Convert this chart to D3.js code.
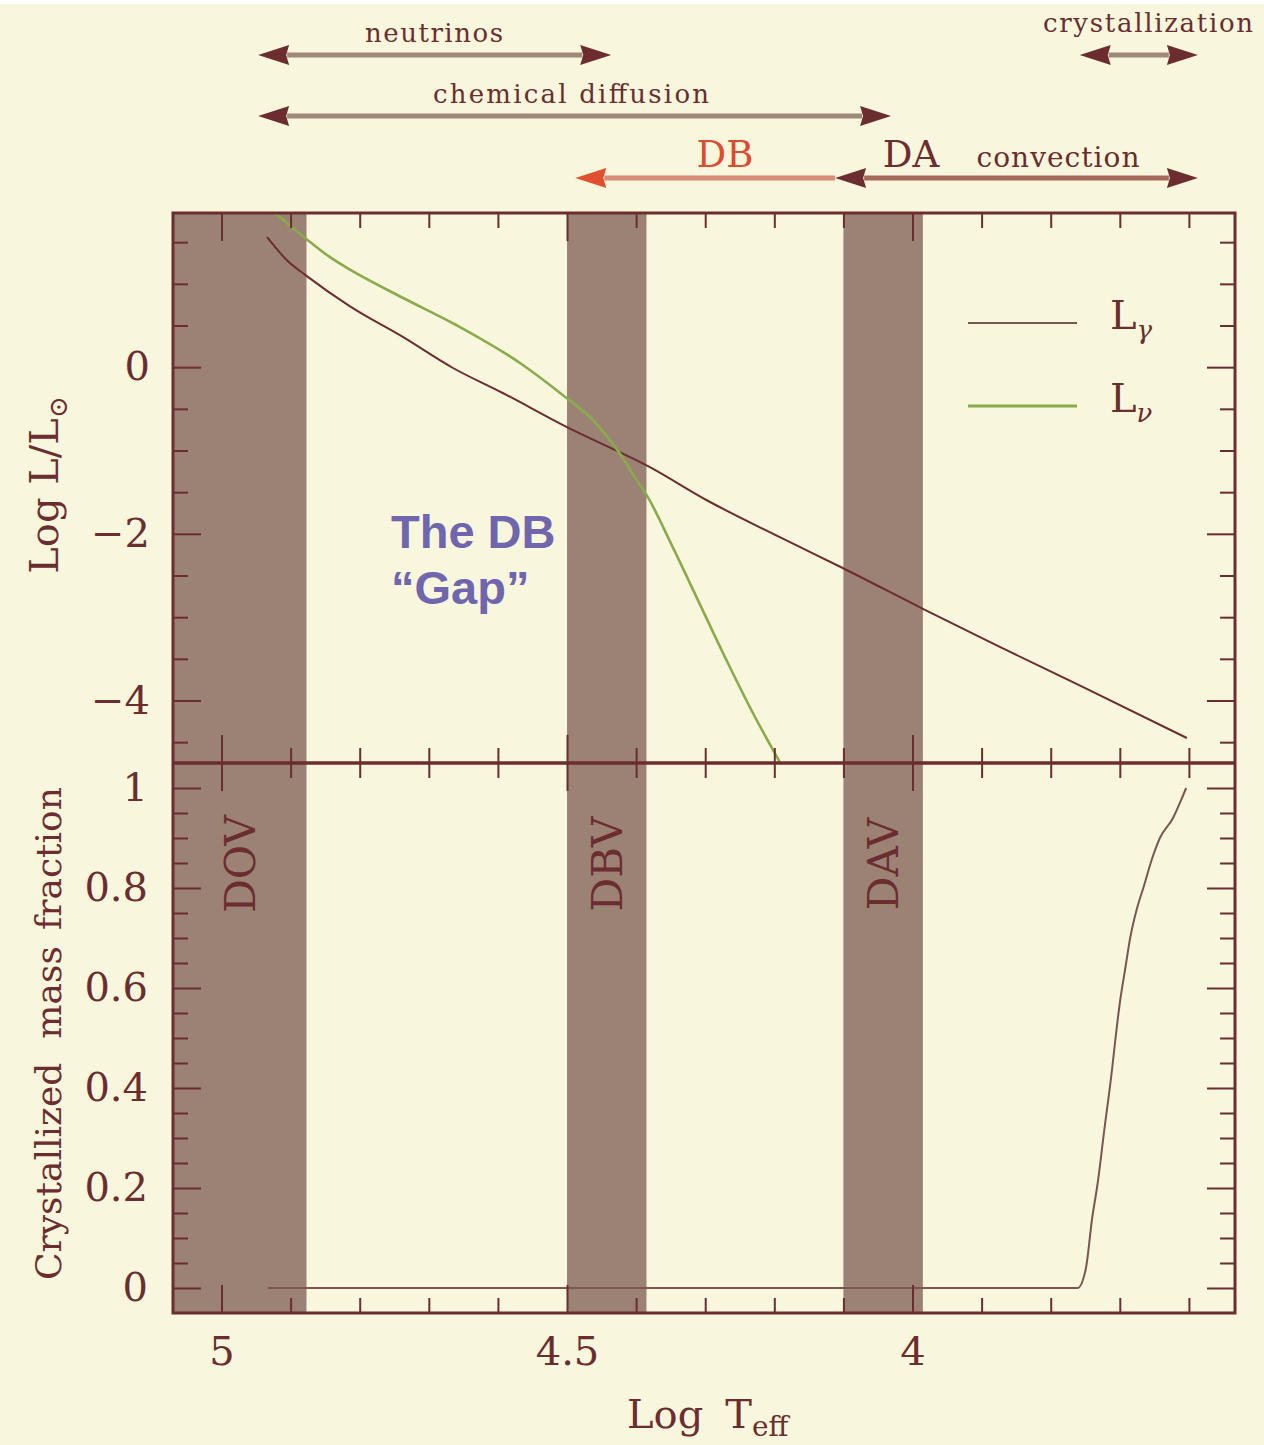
<!DOCTYPE html>
<html><head><meta charset="utf-8">
<script src="https://cdn.jsdelivr.net/npm/d3@7"></script>
<style>
html,body{margin:0;padding:0;background:#fff;}
svg{display:block;}
</style></head>
<body>
<svg id="chart" width="1264" height="1445"></svg>
<script>
// ---------------- data ----------------
const gammaTeff = [4.934, 4.905, 4.876, 4.814, 4.737, 4.665, 4.593, 4.500, 4.380, 4.297, 4.192, 4.101, 3.985, 3.873, 3.753, 3.603];
const gammaLogL = [1.56, 1.28, 1.09, 0.73, 0.36, -0.01, -0.31, -0.72, -1.20, -1.60, -2.04, -2.41, -2.90, -3.36, -3.84, -4.45];
const nuTeff = [4.930, 4.876, 4.843, 4.814, 4.737, 4.659, 4.568, 4.510, 4.462, 4.424, 4.402, 4.383, 4.347, 4.308, 4.269, 4.231, 4.192];
const nuLogL = [1.90, 1.53, 1.32, 1.17, 0.83, 0.50, 0.05, -0.31, -0.64, -1.03, -1.32, -1.56, -2.16, -2.84, -3.52, -4.15, -4.74];
const crysTeff = [4.933, 3.761, 3.749, 3.740, 3.732, 3.723, 3.711, 3.707, 3.700, 3.692, 3.685, 3.675, 3.666, 3.653, 3.642, 3.623, 3.610, 3.604];
const crysFrac = [0, 0, 0.04, 0.14, 0.21, 0.31, 0.44, 0.49, 0.57, 0.64, 0.70, 0.76, 0.80, 0.86, 0.90, 0.94, 0.98, 1.00];
const stripNames = ["DOV", "DBV", "DAV"];
const stripHot = [5.0702, 4.500, 4.100];
const stripCool = [4.877, 4.385, 3.985];
const processHot = [4.947, 4.947, 4.488, 4.112, 3.758];
const processCool = [4.436, 4.031, 4.112, 3.587, 3.587];
const processTexts = ["neutrinos", "chemical diffusion", "DB", "DA", "convection", "crystallization"];
const xMajorTicks = [5, 4.5, 4];
const xMinorTicks = [4.9, 4.8, 4.7, 4.6, 4.4, 4.3, 4.2, 4.1, 3.9, 3.8, 3.7, 3.6];
const yTopMajorTicks = [0, -2, -4];
const yTopMinorTicks = [1.5, 1, 0.5, -0.5, -1, -1.5, -2.5, -3, -3.5, -4.5];
const yBotMajorTicks = [0, 0.2, 0.4, 0.6, 0.8, 1];
const yBotMinorTicks = [0.05, 0.1, 0.15, 0.25, 0.3, 0.35, 0.45, 0.5, 0.55, 0.65, 0.7, 0.75, 0.85, 0.9, 0.95];
const legendSubs = ["γ", "ν"];

// ---------------- layout & style ----------------
const L = 173, R = 1235, T = 213, M = 763, B = 1313;
const bg = "#f8f7dd", maroon = "#6b2d2f", band = "#9b8274", green = "#8aab4b";
const serif = "'DejaVu Serif', serif";
const svg = d3.select("#chart");

const x = d3.scaleLinear().domain([5.0702, 3.5333]).range([L, R]);
const yTop = d3.scaleLinear().domain([-4.75, 1.85]).range([M, T]);
const yBot = d3.scaleLinear().domain([-0.05, 1.05]).range([B, M]);

svg.append("rect").attr("width", 1264).attr("height", 1445).attr("fill", bg);
svg.append("rect").attr("width", 1264).attr("height", 4).attr("fill", "#fff");

// instability strips
svg.append("g").selectAll("rect").data(stripNames).join("rect")
  .attr("x", (d, i) => x(stripHot[i]))
  .attr("width", (d, i) => x(stripCool[i]) - x(stripHot[i]))
  .attr("y", T).attr("height", B - T)
  .attr("fill", band);

// clip paths
const defs = svg.append("defs");
defs.append("clipPath").attr("id", "clipTop").append("rect").attr("x", L).attr("y", T).attr("width", R - L).attr("height", M - T);
defs.append("clipPath").attr("id", "clipBot").append("rect").attr("x", L).attr("y", M).attr("width", R - L).attr("height", B - M);

const lineTop = d3.line().x(d => x(d[0])).y(d => yTop(d[1])).curve(d3.curveMonotoneX);
const lineBot = d3.line().x(d => x(d[0])).y(d => yBot(d[1])).curve(d3.curveMonotoneX);

svg.append("path").attr("clip-path", "url(#clipTop)")
  .attr("d", lineTop(gammaTeff.map((t, i) => [t, gammaLogL[i]])))
  .attr("fill", "none").attr("stroke", maroon).attr("stroke-width", 2);
svg.append("path").attr("clip-path", "url(#clipTop)")
  .attr("d", lineTop(nuTeff.map((t, i) => [t, nuLogL[i]])))
  .attr("fill", "none").attr("stroke", green).attr("stroke-width", 2.6);
svg.append("path").attr("clip-path", "url(#clipBot)")
  .attr("d", lineBot(crysTeff.map((t, i) => [t, crysFrac[i]])))
  .attr("fill", "none").attr("stroke", "#7a5650").attr("stroke-width", 2);

// axes
function axis(gen, tr, ticks, size, labeled, pad) {
  const g = svg.append("g").attr("transform", tr)
    .call(gen.tickValues(ticks).tickSize(size).tickPadding(pad || 3)
      .tickFormat(labeled ? d3.format("~g") : () => ""));
  g.select(".domain").remove();
  g.attr("font-family", serif).attr("font-size", 40);
  g.selectAll("line").attr("stroke", maroon).attr("stroke-width", 2);
  g.selectAll("text").attr("fill", maroon);
  return g;
}
// x ticks: top frame, divider (both sides), bottom frame
axis(d3.axisTop(x), `translate(0,${T})`, xMajorTicks, -28, false);
axis(d3.axisTop(x), `translate(0,${T})`, xMinorTicks, -15, false);
axis(d3.axisBottom(x), `translate(0,${M})`, xMajorTicks, -28, false);
axis(d3.axisBottom(x), `translate(0,${M})`, xMinorTicks, -15, false);
axis(d3.axisTop(x), `translate(0,${M})`, xMajorTicks, -28, false);
axis(d3.axisTop(x), `translate(0,${M})`, xMinorTicks, -15, false);
axis(d3.axisBottom(x), `translate(0,${B})`, xMajorTicks, -28, true, 24);
axis(d3.axisBottom(x), `translate(0,${B})`, xMinorTicks, -15, false);
// y ticks top panel
axis(d3.axisLeft(yTop), `translate(${L},0)`, yTopMajorTicks, -28, true, 23);
axis(d3.axisLeft(yTop), `translate(${L},0)`, yTopMinorTicks, -15, false);
axis(d3.axisRight(yTop), `translate(${R},0)`, yTopMajorTicks, -28, false);
axis(d3.axisRight(yTop), `translate(${R},0)`, yTopMinorTicks, -15, false);
// y ticks bottom panel
axis(d3.axisLeft(yBot), `translate(${L},0)`, yBotMajorTicks, -28, true, 25);
axis(d3.axisLeft(yBot), `translate(${L},0)`, yBotMinorTicks, -15, false);
axis(d3.axisRight(yBot), `translate(${R},0)`, yBotMajorTicks, -28, false);
axis(d3.axisRight(yBot), `translate(${R},0)`, yBotMinorTicks, -15, false);

// frame + divider
svg.append("rect").attr("x", L).attr("y", T).attr("width", R - L).attr("height", B - T)
  .attr("fill", "none").attr("stroke", maroon).attr("stroke-width", 3);
svg.append("line").attr("x1", L).attr("x2", R).attr("y1", M).attr("y2", M)
  .attr("stroke", maroon).attr("stroke-width", 3.5);

// strip labels
svg.append("g").selectAll("text").data(stripNames).join("text")
  .attr("transform", (d, i) => `translate(${(x(stripHot[i]) + x(stripCool[i])) / 2 + 15},864) rotate(-90)`)
  .attr("text-anchor", "middle").attr("font-family", serif).attr("font-size", 42)
  .attr("fill", maroon).text(d => d);

// axis titles
const yt = svg.append("text").attr("transform", "translate(58,485) rotate(-90)")
  .attr("text-anchor", "middle").attr("font-family", serif).attr("font-size", 40).attr("fill", maroon);
yt.append("tspan").text("Log  L/L");
yt.append("tspan").attr("font-size", 26).attr("dy", 9).text("⊙");

const yb = svg.append("text").attr("transform", "translate(61,1280) rotate(-90)")
  .attr("font-family", serif).attr("font-size", 36).attr("fill", maroon);
yb.append("tspan").text("Crystallized");
yb.append("tspan").attr("dx", 24).text("mass");
yb.append("tspan").attr("dx", 16).text("fraction");

const xt = svg.append("text").attr("x", 627).attr("y", 1428)
  .attr("font-family", serif).attr("font-size", 40).attr("fill", maroon);
xt.append("tspan").text("Log");
xt.append("tspan").attr("dx", 22).text("T");
xt.append("tspan").attr("font-size", 28).attr("dy", 8).text("eff");

// legend
const legY = [323, 406];
legendSubs.forEach((s, i) => {
  svg.append("line").attr("x1", 968).attr("x2", 1077).attr("y1", legY[i]).attr("y2", legY[i])
    .attr("stroke", i ? green : "#7a5650").attr("stroke-width", i ? 3 : 2);
  const t = svg.append("text").attr("x", 1110).attr("y", legY[i] + 6)
    .attr("font-family", serif).attr("font-size", 40).attr("fill", maroon);
  t.append("tspan").text("L");
  t.append("tspan").attr("font-size", 26).attr("font-style", "italic").attr("dy", 10).text(s);
});

// The DB gap
const gap = svg.append("g").attr("font-family", "'Liberation Sans', Arial, sans-serif")
  .attr("font-weight", "bold").attr("font-size", 47).attr("fill", "#7066ae");
gap.append("text").attr("x", 391).attr("y", 548).text("The DB");
gap.append("text").attr("x", 391).attr("y", 604).text("\u201CGap\u201D");

// process arrows
const rowY = [55, 116, 178, 178, 55];
const lineCol = ["#9e8878", "#9e8878", "#d48e7a", "#a66a5a", "#9e8878"];
const leftHeadCol = [maroon, maroon, "#e0502e", maroon, maroon];
const hasRight = [true, true, false, true, true];
const HL = 31, HW = 10;
function head(xt, y, dir, col) {
  svg.append("path")
    .attr("d", `M${xt},${y} L${xt - dir * HL},${y - HW} L${xt - dir * (HL - 3)},${y} L${xt - dir * HL},${y + HW} Z`)
    .attr("fill", col);
}
processHot.forEach((h, i) => {
  const x0 = x(h), x1 = x(processCool[i]);
  svg.append("line").attr("x1", x0 + HL - 2).attr("x2", hasRight[i] ? x1 - HL + 2 : x1)
    .attr("y1", rowY[i]).attr("y2", rowY[i]).attr("stroke", lineCol[i]).attr("stroke-width", 5);
  head(x0, rowY[i], -1, leftHeadCol[i]);
  if (hasRight[i]) head(x1, rowY[i], 1, maroon);
});
const txtX = [434, 571, 725, 911, 1058, 1148];
const txtY = [42, 103, 167, 167, 167, 32];
const txtSize = [26, 26, 37, 37, 28, 26];
const txtLen = [138, 276, null, null, 163, 210];
const txtCol = [maroon, maroon, "#e04a2e", maroon, maroon, maroon];
processTexts.forEach((s, i) => {
  const t = svg.append("text").attr("x", txtX[i]).attr("y", txtY[i]).attr("text-anchor", "middle")
    .attr("font-family", serif).attr("font-size", txtSize[i]).attr("fill", txtCol[i]).text(s);
  if (txtLen[i]) t.attr("textLength", txtLen[i]).attr("lengthAdjust", "spacing");
});
</script>
</body></html>
